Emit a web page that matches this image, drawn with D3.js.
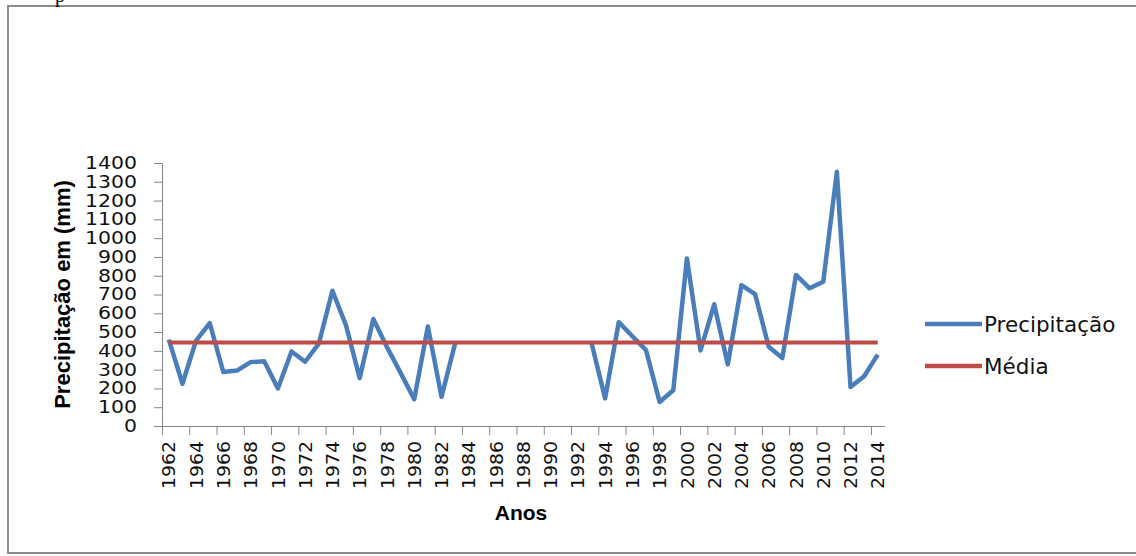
<!DOCTYPE html>
<html>
<head>
<meta charset="utf-8">
<script src="https://cdn.jsdelivr.net/npm/d3@7"></script>
<style>
  body { margin: 0; background: #fff; }
  svg { display: block; }
</style>
</head>
<body>
<svg id="chart" width="1136" height="556"></svg>
<script>
// anos 1962..2014 (lacuna 1984-1992 sem dados)
const years = d3.range(1962, 2015);
const precip = [
  460, 225, 455, 548, 287, 295, 340, 345, 200, 397,
  342, 438, 720, 535, 255, 570, 420, 283, 142, 530,
  155, 440,
  null, null, null, null, null, null, null, null, null,
  443, 147, 553, 478, 404, 128, 190, 892, 402, 648,
  328, 750, 702, 422, 362, 804, 733, 768, 1353, 207,
  265, 380
];
const media = 445;
const yTicks = d3.range(0, 1401, 100);
const xLabels = years.filter(d => d % 2 === 0);
const seriesNames = ["Precipitação", "Média"];
const colors = ["#4A7EBB", "#BE4B48"];

const svg = d3.select("#chart");

// page frame
svg.append("rect")
  .attr("x", 8).attr("y", 6)
  .attr("width", 1140).attr("height", 547)
  .attr("fill", "none")
  .attr("stroke", "#8c8c8c")
  .attr("stroke-width", 2);

// letter of the text above the frame (cut by the page edge in the original)
svg.append("text")
  .attr("x", 55).attr("y", 2)
  .attr("font-family", "Liberation Serif")
  .attr("font-size", 20)
  .text("p");

const x = d3.scaleLinear().domain([1961.5, 2014.5]).range([162, 884.6]);
const y = d3.scaleLinear().domain([0, 1400]).range([426, 163]);

// y axis
const yAxis = svg.append("g")
  .attr("transform", `translate(${x(1961.5)},0)`)
  .call(d3.axisLeft(y).tickValues(yTicks).tickFormat(d3.format("d")).tickSize(8).tickPadding(17));
yAxis.select(".domain").attr("stroke", "#868686");
yAxis.selectAll(".tick line").attr("stroke", "#868686");
yAxis.selectAll("text")
  .attr("font-family", "DejaVu Sans")
  .attr("font-size", 17)
  .attr("fill", "#111")
  .attr("textLength", d => String(d).length * 13)
  .attr("lengthAdjust", "spacingAndGlyphs");

// x axis: tick marks between categories
const xTickAxis = svg.append("g")
  .attr("transform", `translate(0,${y(0)})`)
  .call(d3.axisBottom(x).tickValues(d3.range(1961.5, 2014, 2)).tickFormat("").tickSize(9).tickSizeOuter(0));
xTickAxis.select(".domain").attr("stroke", "#868686");
xTickAxis.selectAll(".tick line").attr("stroke", "#868686");

// x axis labels
const xLab = svg.append("g")
  .attr("transform", `translate(0,${y(0)})`)
  .call(d3.axisBottom(x).tickValues(xLabels).tickFormat(d3.format("d")).tickSize(0));
xLab.select(".domain").remove();
xLab.selectAll("text")
  .attr("transform", "rotate(-90)")
  .attr("x", -15).attr("y", 0).attr("dy", "0.36em")
  .style("text-anchor", "end")
  .attr("font-family", "DejaVu Sans")
  .attr("font-size", 17)
  .attr("fill", "#111")
  .attr("textLength", 48)
  .attr("lengthAdjust", "spacingAndGlyphs");

// lines
const line = d3.line()
  .defined(d => d[1] != null)
  .x(d => x(d[0]))
  .y(d => y(d[1]));

svg.append("path")
  .datum(years.map((yr, i) => [yr, precip[i]]))
  .attr("d", line)
  .attr("fill", "none")
  .attr("stroke", colors[0])
  .attr("stroke-width", 4.5)
  .attr("stroke-linejoin", "round");

svg.append("path")
  .datum(years.map(yr => [yr, media]))
  .attr("d", line)
  .attr("fill", "none")
  .attr("stroke", colors[1])
  .attr("stroke-width", 4);

// axis titles
svg.append("text")
  .attr("transform", `translate(70,${(y(0) + y(1400)) / 2}) rotate(-90)`)
  .attr("text-anchor", "middle")
  .attr("font-family", "Liberation Sans")
  .attr("font-weight", "bold")
  .attr("font-size", 22)
  .text("Precipitação em (mm)");

svg.append("text")
  .attr("x", 521).attr("y", 520)
  .attr("text-anchor", "middle")
  .attr("font-family", "Liberation Sans")
  .attr("font-weight", "bold")
  .attr("font-size", 21)
  .text("Anos");

// legend
const legend = svg.append("g").attr("transform", "translate(925,324)");
seriesNames.forEach((name, i) => {
  const g = legend.append("g").attr("transform", `translate(0,${i * 42})`);
  g.append("line")
    .attr("x1", 0).attr("x2", 57)
    .attr("stroke", colors[i])
    .attr("stroke-width", 4.5);
  g.append("text")
    .attr("x", 59).attr("y", 8)
    .attr("font-family", "DejaVu Sans")
    .attr("font-size", 21.5)
    .attr("fill", "#111")
    .text(name);
});
</script>
</body>
</html>
